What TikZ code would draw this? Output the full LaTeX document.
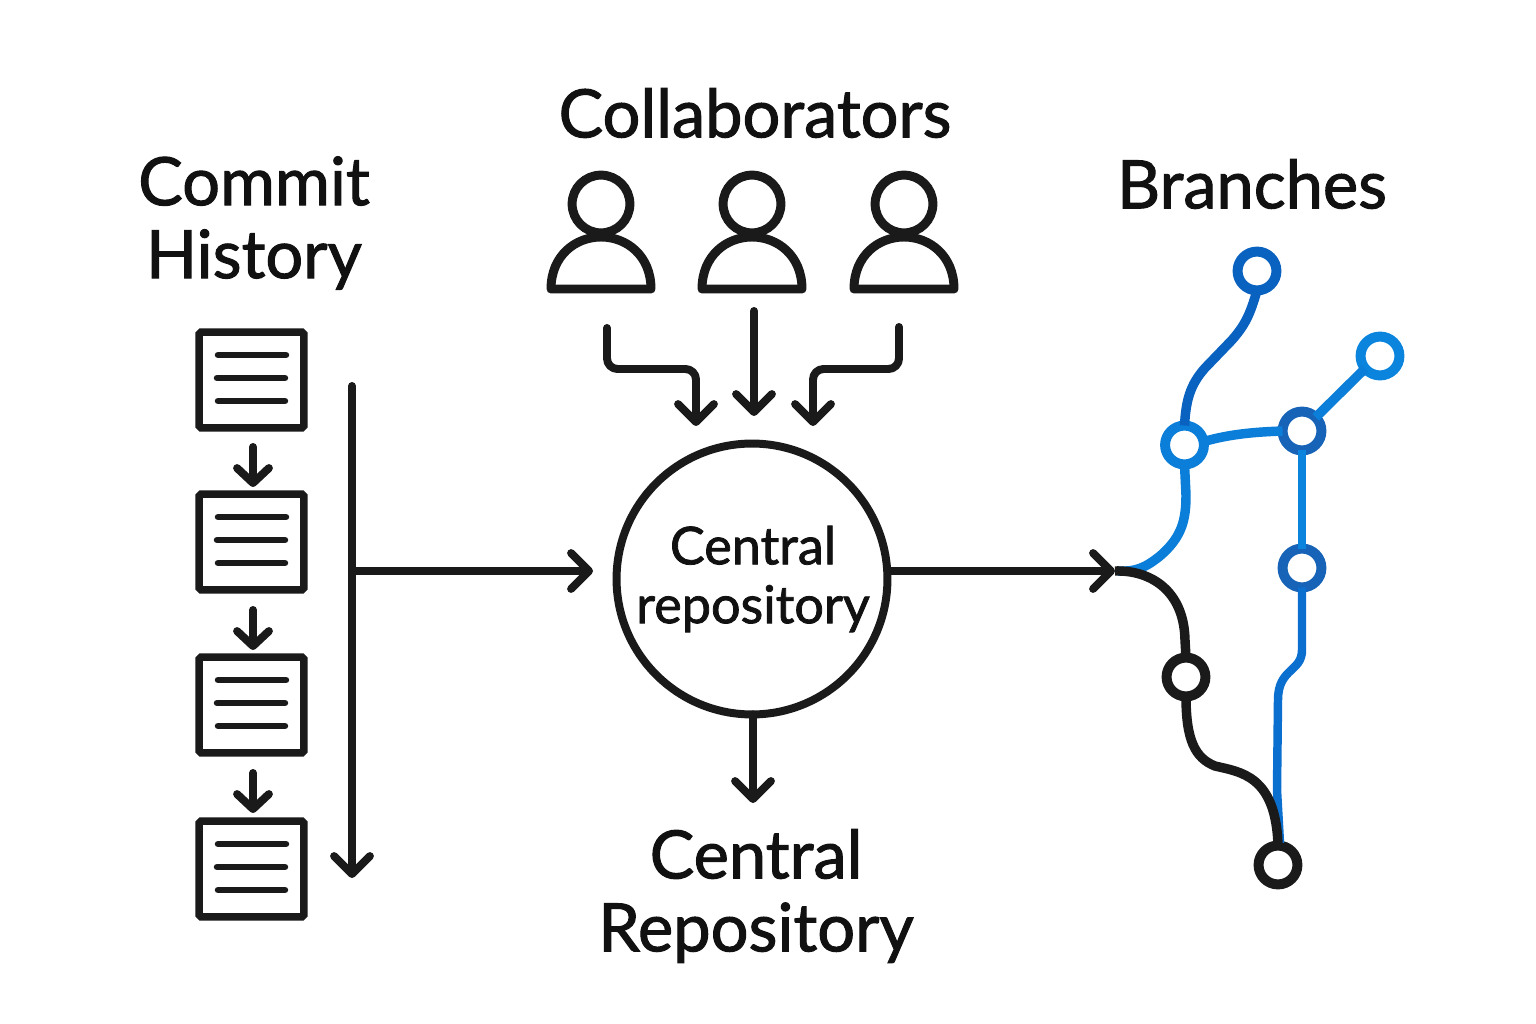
\documentclass[tikz,border=0pt]{standalone}
\usepackage{fontspec}
\setmainfont{Lato}[FakeBold=1.5]
\usetikzlibrary{arrows.meta}
\def\pxu{0.5669pt}
\definecolor{ink}{HTML}{1A1A1A}
\definecolor{textink}{HTML}{111111}
\definecolor{blueA}{HTML}{0A62C0}
\definecolor{blueB}{HTML}{0A84DC}
\definecolor{blueC}{HTML}{0A7ED8}
\definecolor{blueD}{HTML}{1763B8}
\definecolor{blueE}{HTML}{0B6FD0}
\tikzset{
  x=0.02cm,y=-0.02cm,
  tipbig/.style={-{Straight Barb[round,length=18*\pxu,width=36*\pxu]}},
  tipsmall/.style={-{Straight Barb[round,length=15*\pxu,width=32*\pxu]}},
  flow/.style={draw=ink,line width=8*\pxu,line cap=round,line join=round,tipbig},
  flowsmall/.style={flow,tipsmall},
  heading/.style={font=\fontsize{38}{41.5}\selectfont,text=textink,inner sep=0pt,align=center},
  repolabel/.style={font=\fontsize{29.7}{33.5}\selectfont,text=textink,align=center,inner sep=0pt},
  hub/.style={circle,draw=ink,line width=8*\pxu,fill=white,minimum size=272*\pxu,inner sep=0pt,outer sep=0pt},
  commitbox/.style={rectangle,draw=ink,line width=7.5*\pxu,rounded corners=1pt,fill=white,minimum width=105*\pxu,minimum height=96*\pxu,inner sep=0pt,outer sep=0pt},
  textline/.style={draw=ink,line width=6.5*\pxu,line cap=round},
  headring/.style={circle,draw=ink,line width=9*\pxu,minimum size=58*\pxu,inner sep=0pt,outer sep=0pt},
  shoulders/.style={draw=ink,line width=9*\pxu,line join=round},
  gitnode/.style={circle,line width=10*\pxu,fill=white,minimum size=39*\pxu,inner sep=0pt,outer sep=0pt},
  blackedge/.style={draw=ink,line width=9.5*\pxu},
  blueedge/.style={line width=9.5*\pxu},
}
\newcommand{\commitdoc}[2]{%
  \node[commitbox] (#1) at (251.5,#2) {};
  \draw[textline] (218,#2-25) -- (286,#2-25);
  \draw[textline] (217,#2-2) -- (285,#2-2);
  \draw[textline] (218,#2+21) -- (285,#2+21);
}
\newcommand{\person}[3]{%
  \node[headring] (#1) at (#2,#3) {};
  \draw[shoulders] (#2-50,#3+85) .. controls (#2-50,#3+52) and (#2-26,#3+33) .. (#2,#3+33)
     .. controls (#2+26,#3+33) and (#2+50,#3+52) .. (#2+50,#3+85) -- cycle;
}
\begin{document}
\begin{tikzpicture}
\useasboundingbox (0,0) rectangle (1536,1024);
\fill[white] (0,0) rectangle (1536,1024);

% headings
\node[heading] (collab) at (755,113) {Collaborators};
\node[heading] (commits) at (254,223) {Commit\\History};
\node[heading] (branches) at (1252,184) {Branches};
\node[heading] (bottom) at (756,896) {Central\\Repository};

% collaborators
\person{pa}{601}{204}
\person{pb}{752}{204}
\person{pc}{904}{204}

% hub
\node[hub] (repo) at (752,579) {};
\node[repolabel] (repotext) at (753,579) {Central\\repository};

% collaborator arrows
\coordinate (pafoot) at (607,328);
\coordinate (pbfoot) at (754,311);
\coordinate (pcfoot) at (899,327);
\coordinate (patip) at (696,426);
\coordinate (pbtip) at (754,416);
\coordinate (pctip) at (813,426);
\draw[flow,rounded corners=6pt] (pafoot) -- (607,369) -- (696,369) -- (patip);
\draw[flow] (pbfoot) -- (pbtip);
\draw[flow,rounded corners=6pt] (pcfoot) -- (899,369) -- (813,369) -- (pctip);

% commit history
\commitdoc{ca}{380}
\commitdoc{cb}{542}
\commitdoc{cc}{705}
\commitdoc{cd}{869}
\coordinate (abstart) at (253,447);
\coordinate (bcstart) at (253,610);
\coordinate (cdstart) at (253,773);
\coordinate (abtip) at (253,487);
\coordinate (bctip) at (253,650);
\coordinate (cdtip) at (253,813);
\draw[flowsmall] (abstart) -- (abtip);
\draw[flowsmall] (bcstart) -- (bctip);
\draw[flowsmall] (cdstart) -- (cdtip);

% timeline and hub links
\coordinate (tltop) at (352,386);
\coordinate (tlend) at (352,878);
\coordinate (tljoin) at (352,571);
\coordinate (hubin) at (593,571);
\coordinate (bottomtip) at (753,803);
\coordinate (fork) at (1115,571);
\draw[flow] (tltop) -- (tlend);
\draw[flow] (tljoin) -- (hubin);
\draw[flow] (repo.south -| bottomtip) -- (bottomtip);

% git graph nodes
\node[gitnode,draw=blueA] (b1) at (1257,271) {};
\node[gitnode,draw=blueB] (b2) at (1380,356) {};
\node[gitnode,draw=blueC] (b3) at (1184.5,445) {};
\node[gitnode,draw=blueD] (b4) at (1302,431) {};
\node[gitnode,draw=blueD] (b5) at (1302,568) {};
\node[gitnode,draw=ink] (k1) at (1186,677) {};
\node[gitnode,draw=ink] (k2) at (1278,865) {};

% blue edges
\draw[blueedge,draw=blueC] (1118,571) .. controls (1135,572) and (1145,568) .. (1160,556)
  .. controls (1182,537) and (1186,520) .. (1186,495) -- (b3.south);
\draw[blueedge,draw=blueA] (b3.north) .. controls (1186,400) and (1190,385) .. (1205,368)
  -- (1232,340) .. controls (1245,325) and (1250,315) .. (b1.south);
\draw[blueedge,draw=blueC] (b3.10) .. controls (1230,434) and (1255,432) .. (b4.west);
\draw[blueedge,draw=blueC] (b4.45) -- (b2.220);
\draw[blueedge,draw=blueB,line width=8.5*\pxu] (b4.south) -- (b5.north);
\draw[blueedge,draw=blueE,line width=8.5*\pxu] (b5.south) -- (1302,650)
  .. controls (1302,672) and (1278,668) .. (1278,700) -- (1277,790) -- (1280,843);

% black edges
\draw[blackedge] (fork) .. controls (1150,570) and (1184,590) .. (1185,640) -- (k1.north);
\draw[blackedge] (k1.south) .. controls (1186,740) and (1195,758) .. (1215,766)
  .. controls (1240,772) and (1276,775) .. (k2.north);

% hub to fork
\draw[flow] (repo.east |- fork) -- (fork);
\end{tikzpicture}
\end{document}
